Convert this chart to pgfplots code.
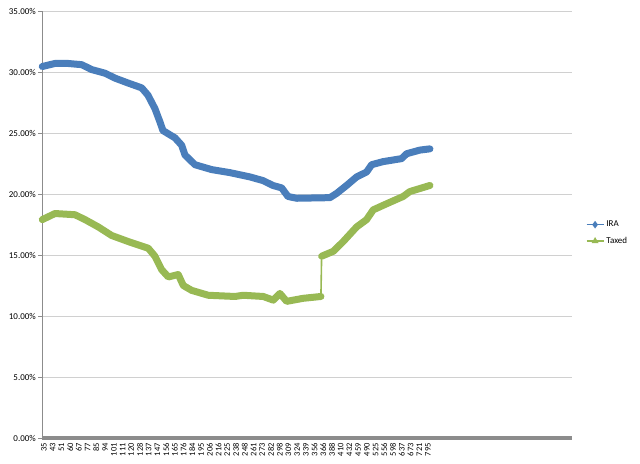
\documentclass[border=0pt]{standalone}
\usepackage{fontspec}
\setmainfont{Carlito}
\usepackage{pgfplots}
\usepackage{pgfplotstable}
\pgfplotsset{compat=1.18}
\definecolor{irablue}{HTML}{4A7EBB}
\definecolor{taxgreen}{HTML}{98B954}
\definecolor{gridgray}{HTML}{D0D0D0}
\definecolor{axgray}{HTML}{8C8C8C}

\pgfplotstableread{
u ira
-0.2 30.45
1.26 30.7
2.75 30.7
4.32 30.6
5.46 30.2
6.99 29.9
8.13 29.5
9.62 29.1
11.19 28.7
11.91 28.1
12.71 27.0
13.29 25.9
13.63 25.2
15.01 24.6
15.77 24.0
16.15 23.2
17.30 22.4
19.21 22.0
21.31 21.75
23.60 21.4
25.09 21.1
26.23 20.7
27.23 20.5
27.95 19.8
28.95 19.65
32.76 19.7
33.53 20.05
34.67 20.7
35.82 21.4
36.96 21.8
37.54 22.4
38.83 22.65
40.97 22.9
41.55 23.3
43.07 23.6
44.22 23.7
}\iratable

\pgfplotstableread{
u tax
-0.2 17.9
1.26 18.4
3.55 18.3
4.70 17.9
6.22 17.3
7.75 16.6
9.66 16.1
11.95 15.55
12.71 14.9
13.48 13.8
14.24 13.2
15.38 13.4
15.96 12.5
16.92 12.1
18.82 11.7
21.88 11.6
22.83 11.7
25.12 11.6
26.27 11.3
27.03 11.85
27.80 11.2
29.70 11.45
31.73 11.6
31.77 nan
31.81 14.9
33.14 15.3
34.28 16.1
35.82 17.3
36.96 17.9
37.72 18.7
39.26 19.2
41.16 19.8
41.92 20.2
44.22 20.7
}\taxtable

\begin{document}
\begin{tikzpicture}
\useasboundingbox (-42bp,-26bp) rectangle (598bp,438bp);
\begin{axis}[
  at={(0,0)}, anchor=south west,
  scale only axis,
  width=530bp, height=427bp,
  xmin=-0.23, xmax=60.5,
  ymin=0, ymax=35,
  ytick={0,5,...,35},
  ymajorgrids,
  grid style={gridgray, line width=0.8bp},
  axis x line*=bottom,
  axis y line*=left,
  x axis line style={axgray, line width=4bp, shorten <=-0.5bp},
  y axis line style={axgray, line width=0.8bp},
  tick style={axgray, line width=0.8bp},
  ytick style={axgray},
  major tick length=4bp,
  tick align=outside,
  xtick={0,...,44},
  xticklabels={35,43,51,60,67,77,85,94,101,111,120,128,137,147,156,165,176,184,195,206,216,225,238,248,261,273,282,298,309,324,339,356,366,388,410,432,459,490,525,556,598,637,673,721,795},
  xtick style={draw=none},
  xticklabel style={rotate=90, anchor=east, font=\fontsize{8.5}{9}\selectfont, inner sep=1bp, xshift=0bp},
  yticklabel style={font=\fontsize{9}{10}\selectfont, inner sep=2bp},
  yticklabel={\pgfmathprintnumber[fixed,fixed zerofill,precision=2]{\tick}\%},
  /pgf/number format/assume math mode=true,
  clip=false,
  legend style={at={(1.02,0.48)}, anchor=west, draw=none, fill=none,
    font=\fontsize{9}{10}\selectfont, row sep=5bp},
  legend cell align=left,
]
\addplot[irablue, line width=7bp, line join=round, line cap=round, forget plot] table[x=u,y=ira] {\iratable};
\addplot[taxgreen, line width=1.6bp, forget plot] table[x=u,y=tax] {\taxtable};
\addplot[taxgreen, line width=7bp, line join=round, line cap=round, unbounded coords=jump, forget plot] table[x=u,y=tax] {\taxtable};
\addlegendimage{irablue, line width=1.6bp, mark=diamond*, mark size=2.5bp}
\addlegendentry{IRA}
\addlegendimage{taxgreen, line width=1.6bp, mark=triangle*, mark size=2.5bp}
\addlegendentry{Taxed}
\end{axis}
\end{tikzpicture}
\end{document}
